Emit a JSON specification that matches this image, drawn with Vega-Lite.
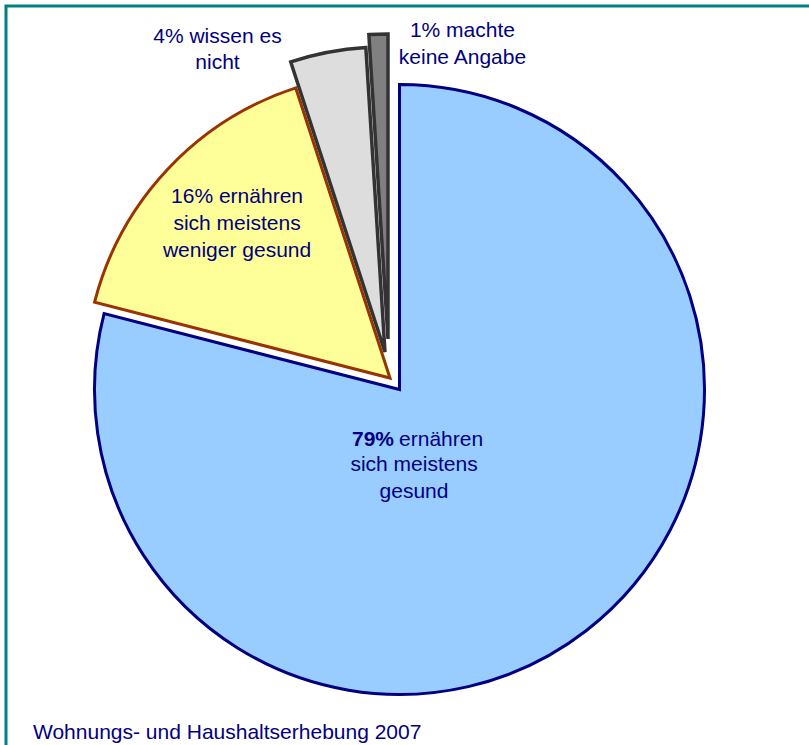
{
  "$schema": "https://vega.github.io/schema/vega-lite/v6.json",
  "width": 820,
  "height": 767,
  "autosize": {"type": "none"},
  "padding": {"left": 6, "top": 6, "right": 0, "bottom": 0},
  "background": "white",
  "view": {"stroke": "#008080", "strokeWidth": 3},
  "config": {
    "view": {"stroke": "#008080", "strokeWidth": 3},
    "text": {"font": "Liberation Sans", "fontSize": 21, "color": "#000080", "fill": "#000080"}
  },
  "title": {
    "text": "Wohnungs- und Haushaltserhebung 2007",
    "orient": "bottom",
    "anchor": "start",
    "frame": "group",
    "offset": -51,
    "dx": 27,
    "font": "Liberation Sans",
    "fontSize": 21,
    "fontWeight": "normal",
    "color": "#000080"
  },
  "data": {
    "values": [
      {"cat": "gesund", "value": 79, "ord": 1},
      {"cat": "weniger", "value": 16, "ord": 2},
      {"cat": "wissen", "value": 4, "ord": 3},
      {"cat": "keine", "value": 1, "ord": 4}
    ]
  },
  "transform": [
    {"stack": "value", "groupby": [], "sort": [{"field": "ord"}], "as": ["s", "e"]}
  ],
  "layer": [
    {
      "transform": [{"filter": "datum.cat == 'gesund'"}],
      "mark": {"type": "arc", "radius": 305, "fill": "#99CCFF", "stroke": "#000080", "strokeWidth": 3, "strokeJoin": "miter", "xOffset": -16.5, "yOffset": 0},
      "encoding": {
        "theta": {"field": "s", "type": "quantitative", "scale": {"domain": [0, 100]}},
        "theta2": {"field": "e"}
      }
    },
    {
      "transform": [{"filter": "datum.cat == 'weniger'"}],
      "mark": {"type": "arc", "radius": 305, "fill": "#FFFF99", "stroke": "#993300", "strokeWidth": 3, "strokeJoin": "miter", "xOffset": -26, "yOffset": -11.5},
      "encoding": {
        "theta": {"field": "s", "type": "quantitative"},
        "theta2": {"field": "e"}
      }
    },
    {
      "transform": [{"filter": "datum.cat == 'wissen'"}],
      "mark": {"type": "arc", "radius": 305, "fill": "#DDDDDD", "stroke": "#333333", "strokeWidth": 3.5, "strokeJoin": "miter", "xOffset": -31, "yOffset": -37.5},
      "encoding": {
        "theta": {"field": "s", "type": "quantitative"},
        "theta2": {"field": "e"}
      }
    },
    {
      "transform": [{"filter": "datum.cat == 'keine'"}],
      "mark": {"type": "arc", "radius": 305, "fill": "#808080", "stroke": "#333333", "strokeWidth": 3.5, "strokeJoin": "miter", "xOffset": -28, "yOffset": -50.5},
      "encoding": {
        "theta": {"field": "s", "type": "quantitative"},
        "theta2": {"field": "e"}
      }
    },
    {
      "mark": {"type": "text", "radius": 80, "align": "right", "baseline": "middle", "fontWeight": "bold", "xOffset": -16.5, "dx": -54.5, "dy": -13.2},
      "encoding": {
        "theta": {"field": "value", "type": "quantitative", "stack": true},
        "order": {"field": "ord"},
        "text": {"condition": {"test": "datum.cat == 'gesund'", "value": "79%"}, "value": ""}
      }
    },
    {
      "mark": {"type": "text", "radius": 80, "align": "left", "baseline": "middle", "xOffset": -16.5, "dx": -49.5, "dy": -13.2},
      "encoding": {
        "theta": {"field": "value", "type": "quantitative", "stack": true},
        "order": {"field": "ord"},
        "text": {"condition": {"test": "datum.cat == 'gesund'", "value": "ernähren"}, "value": ""}
      }
    },
    {
      "mark": {"type": "text", "radius": 80, "align": "center", "baseline": "middle", "lineHeight": 27, "xOffset": -16.5, "dx": -34.5, "dy": 12.5},
      "encoding": {
        "theta": {"field": "value", "type": "quantitative", "stack": true},
        "order": {"field": "ord"},
        "text": {"condition": {"test": "datum.cat == 'gesund'", "value": ["sich meistens", "gesund"]}, "value": ""}
      }
    },
    {
      "mark": {"type": "text", "radius": 230, "align": "center", "baseline": "middle", "lineHeight": 27, "xOffset": -16.5, "dx": 5.2, "dy": -35.1},
      "encoding": {
        "theta": {"field": "value", "type": "quantitative", "stack": true},
        "order": {"field": "ord"},
        "text": {"condition": {"test": "datum.cat == 'weniger'", "value": ["16% ernähren", "sich meistens", "weniger gesund"]}, "value": ""}
      }
    },
    {
      "mark": {"type": "text", "radius": 345, "align": "center", "baseline": "middle", "lineHeight": 26, "xOffset": -16.5, "dx": -117.4, "dy": -14.1},
      "encoding": {
        "theta": {"field": "value", "type": "quantitative", "stack": true},
        "order": {"field": "ord"},
        "text": {"condition": {"test": "datum.cat == 'wissen'", "value": ["4% wissen es", "nicht"]}, "value": ""}
      }
    },
    {
      "mark": {"type": "text", "radius": 345, "align": "center", "baseline": "middle", "lineHeight": 27, "xOffset": -16.5, "dx": 73.8, "dy": -13.2},
      "encoding": {
        "theta": {"field": "value", "type": "quantitative", "stack": true},
        "order": {"field": "ord"},
        "text": {"condition": {"test": "datum.cat == 'keine'", "value": ["1% machte", "keine Angabe"]}, "value": ""}
      }
    }
  ]
}
